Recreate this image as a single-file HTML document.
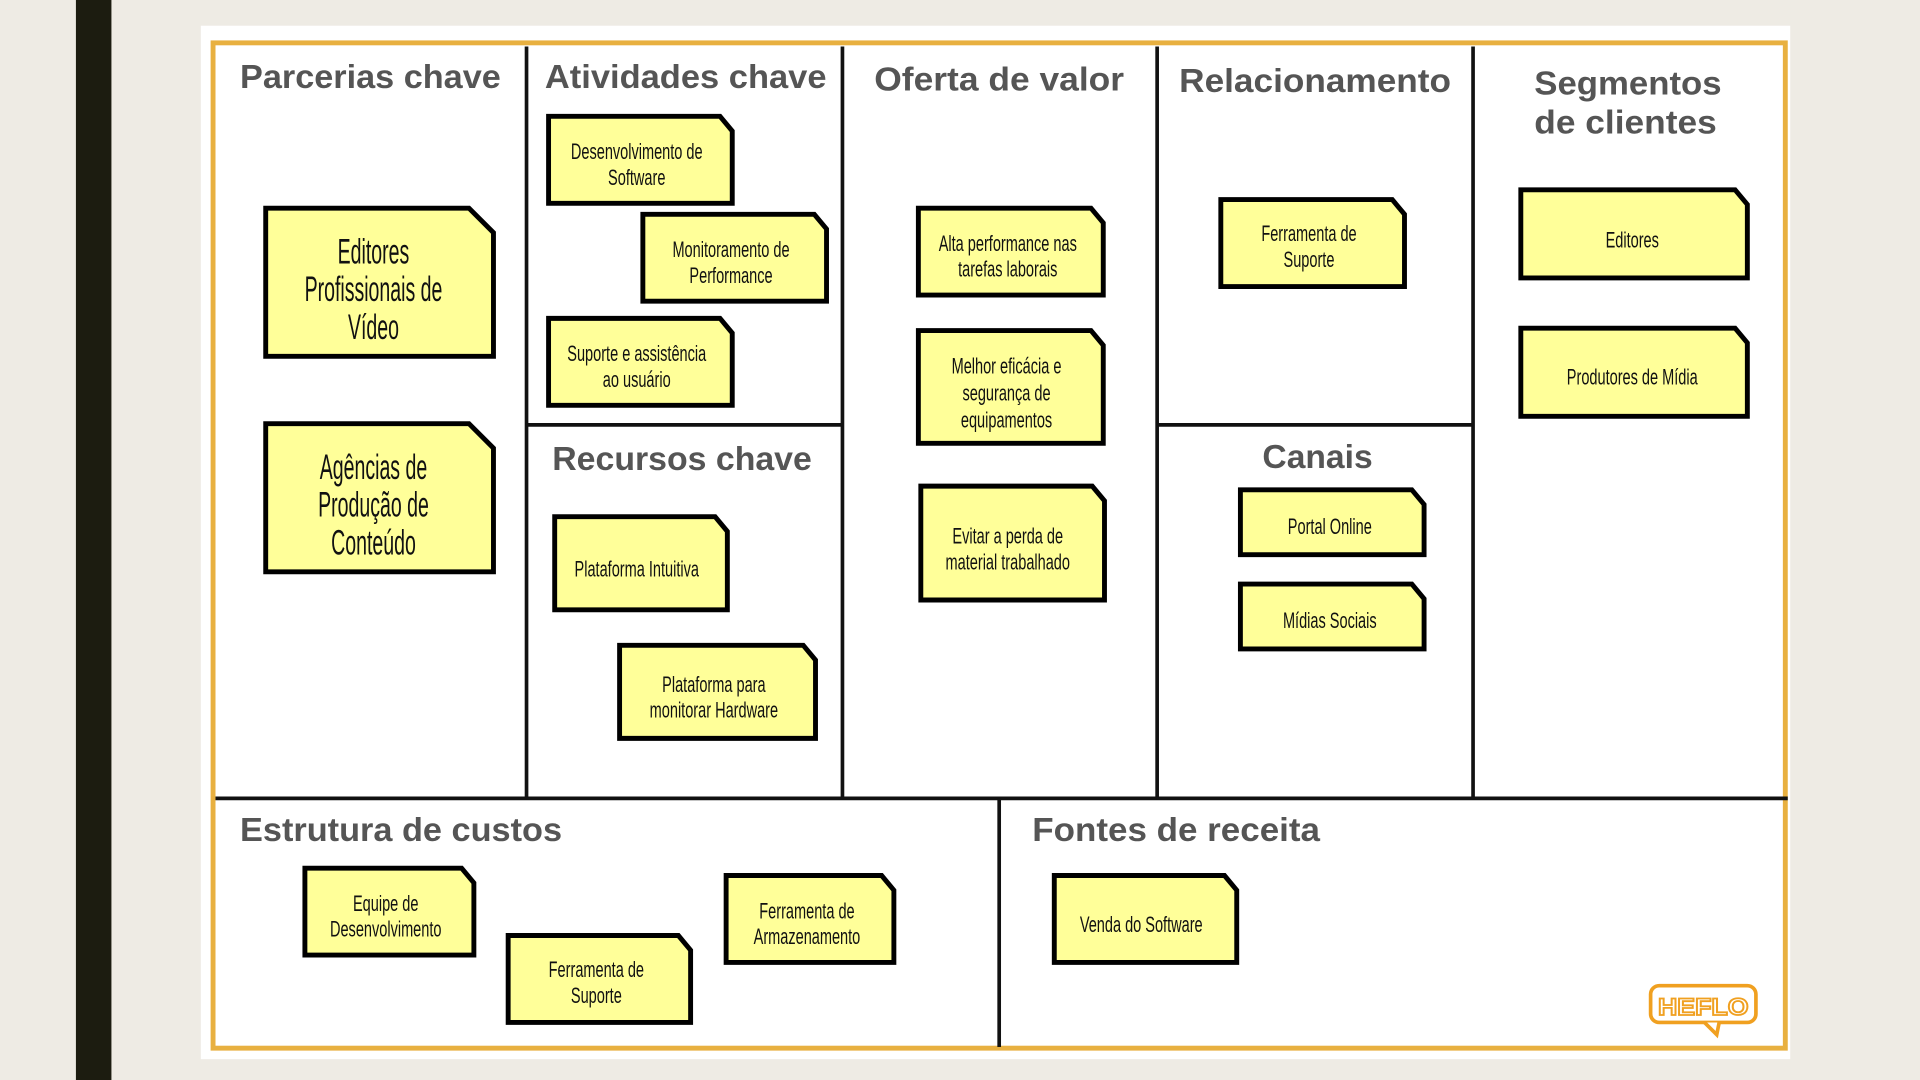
<!DOCTYPE html>
<html><head><meta charset="utf-8"><style>
html,body{margin:0;padding:0;background:#eeebe4;width:1920px;height:1080px;overflow:hidden}
svg{display:block}
.h{font-family:"Liberation Sans",sans-serif;font-weight:bold;fill:#555;font-size:27px}
.n{font-family:"Liberation Sans",sans-serif;font-size:18px;fill:#111}
.b{font-family:"Liberation Sans",sans-serif;font-size:29px;fill:#111}
.p{fill:#ffff99;stroke:#000;stroke-width:4}
</style></head><body>
<svg width="1920" height="1080" viewBox="0 0 1568 882">
<rect width="1568" height="882" fill="#eeebe4"/>
<rect x="62" y="0" width="29" height="882" fill="#1c1c10"/>
<rect x="164" y="21" width="1298" height="844" fill="#fff"/>
<rect x="174" y="35" width="1284" height="821" fill="none" stroke="#e8b040" stroke-width="4"/>
<g stroke="#111" stroke-width="3">
<line x1="430" y1="38" x2="430" y2="652"/>
<line x1="688" y1="38" x2="688" y2="652"/>
<line x1="945" y1="38" x2="945" y2="652"/>
<line x1="1203" y1="38" x2="1203" y2="652"/>
<line x1="176" y1="652" x2="1460" y2="652"/>
<line x1="430" y1="347" x2="688" y2="347"/>
<line x1="945" y1="347" x2="1203" y2="347"/>
<line x1="816" y1="652" x2="816" y2="855"/>
</g>
<g class="h">
<text x="196" y="72" textLength="213" lengthAdjust="spacingAndGlyphs">Parcerias chave</text>
<text x="445" y="72" textLength="230" lengthAdjust="spacingAndGlyphs">Atividades chave</text>
<text x="714" y="74" textLength="204" lengthAdjust="spacingAndGlyphs">Oferta de valor</text>
<text x="963" y="75" textLength="222" lengthAdjust="spacingAndGlyphs">Relacionamento</text>
<text x="1253" y="77" textLength="153" lengthAdjust="spacingAndGlyphs">Segmentos</text>
<text x="1253" y="109" textLength="149" lengthAdjust="spacingAndGlyphs">de clientes</text>
<text x="451" y="384" textLength="212" lengthAdjust="spacingAndGlyphs">Recursos chave</text>
<text x="1031" y="382" textLength="90" lengthAdjust="spacingAndGlyphs">Canais</text>
<text x="196" y="687" textLength="263" lengthAdjust="spacingAndGlyphs">Estrutura de custos</text>
<text x="843" y="687" textLength="235" lengthAdjust="spacingAndGlyphs">Fontes de receita</text>
</g>
<!-- notes -->
<g>
<polygon class="p" points="217,170 383,170 403,190 403,291 217,291"/>
<polygon class="p" points="217,346 383,346 403,366 403,467 217,467"/>
<polygon class="p" points="448,95 588,95 598,107 598,166 448,166"/>
<polygon class="p" points="525,175 665,175 675,187 675,246 525,246"/>
<polygon class="p" points="448,260 588,260 598,272 598,331 448,331"/>
<polygon class="p" points="453,422 584,422 594,434 594,498 453,498"/>
<polygon class="p" points="506,527 656,527 666,539 666,603 506,603"/>
<polygon class="p" points="750,170 891,170 901,182 901,241 750,241"/>
<polygon class="p" points="750,270 891,270 901,282 901,362 750,362"/>
<polygon class="p" points="752,397 892,397 902,409 902,490 752,490"/>
<polygon class="p" points="997,163 1137,163 1147,175 1147,234 997,234"/>
<polygon class="p" points="1013,400 1153,400 1163,412 1163,453 1013,453"/>
<polygon class="p" points="1013,477 1153,477 1163,489 1163,530 1013,530"/>
<polygon class="p" points="1242,155 1417,155 1427,167 1427,227 1242,227"/>
<polygon class="p" points="1242,268 1417,268 1427,280 1427,340 1242,340"/>
<polygon class="p" points="249,709 377,709 387,721 387,780 249,780"/>
<polygon class="p" points="415,764 554,764 564,776 564,835 415,835"/>
<polygon class="p" points="593,715 720,715 730,727 730,786 593,786"/>
<polygon class="p" points="861,715 1000,715 1010,727 1010,786 861,786"/>
</g>
<g class="b" text-anchor="middle">
<text transform="translate(305,215) scale(0.55,1)">Editores</text>
<text transform="translate(305,246) scale(0.55,1)">Profissionais de</text>
<text transform="translate(305,277) scale(0.55,1)">Vídeo</text>
<text transform="translate(305,391) scale(0.55,1)">Agências de</text>
<text transform="translate(305,422) scale(0.55,1)">Produção de</text>
<text transform="translate(305,453) scale(0.55,1)">Conteúdo</text>
</g>
<g class="n" text-anchor="middle">
<text transform="translate(520,130) scale(0.66,1)">Desenvolvimento de</text>
<text transform="translate(520,151) scale(0.66,1)">Software</text>
<text transform="translate(597,210) scale(0.66,1)">Monitoramento de</text>
<text transform="translate(597,231) scale(0.66,1)">Performance</text>
<text transform="translate(520,295) scale(0.66,1)">Suporte e assistência</text>
<text transform="translate(520,316) scale(0.66,1)">ao usuário</text>
<text transform="translate(520,471) scale(0.66,1)">Plataforma Intuitiva</text>
<text transform="translate(583,565) scale(0.66,1)">Plataforma para</text>
<text transform="translate(583,586) scale(0.66,1)">monitorar Hardware</text>
<text transform="translate(823,205) scale(0.66,1)">Alta performance nas</text>
<text transform="translate(823,226) scale(0.66,1)">tarefas laborais</text>
<text transform="translate(822,305) scale(0.66,1)">Melhor eficácia e</text>
<text transform="translate(822,327) scale(0.66,1)">segurança de</text>
<text transform="translate(822,349) scale(0.66,1)">equipamentos</text>
<text transform="translate(823,444) scale(0.66,1)">Evitar a perda de</text>
<text transform="translate(823,465) scale(0.66,1)">material trabalhado</text>
<text transform="translate(1069,197) scale(0.66,1)">Ferramenta de</text>
<text transform="translate(1069,218) scale(0.66,1)">Suporte</text>
<text transform="translate(1086,436) scale(0.66,1)">Portal Online</text>
<text transform="translate(1086,513) scale(0.66,1)">Mídias Sociais</text>
<text transform="translate(1333,202) scale(0.66,1)">Editores</text>
<text transform="translate(1333,314) scale(0.66,1)">Produtores de Mídia</text>
<text transform="translate(315,744) scale(0.66,1)">Equipe de</text>
<text transform="translate(315,765) scale(0.66,1)">Desenvolvimento</text>
<text transform="translate(487,798) scale(0.66,1)">Ferramenta de</text>
<text transform="translate(487,819) scale(0.66,1)">Suporte</text>
<text transform="translate(659,750) scale(0.66,1)">Ferramenta de</text>
<text transform="translate(659,771) scale(0.66,1)">Armazenamento</text>
<text transform="translate(932,761) scale(0.66,1)">Venda do Software</text>
</g>
<!-- HEFLO logo -->
<g>
<rect x="1348" y="805" width="86" height="30" rx="7" fill="none" stroke="#f0a020" stroke-width="3"/>
<path d="M1392,835 l10,10 l2,-10" fill="#fff" stroke="#f0a020" stroke-width="3"/>
<text x="1391" y="829" text-anchor="middle" font-family="Liberation Sans,sans-serif" font-weight="bold" font-size="20" fill="#fff" stroke="#f0a020" stroke-width="1.5" textLength="74" lengthAdjust="spacingAndGlyphs">HEFLO</text>
</g>
</svg>
</body></html>
